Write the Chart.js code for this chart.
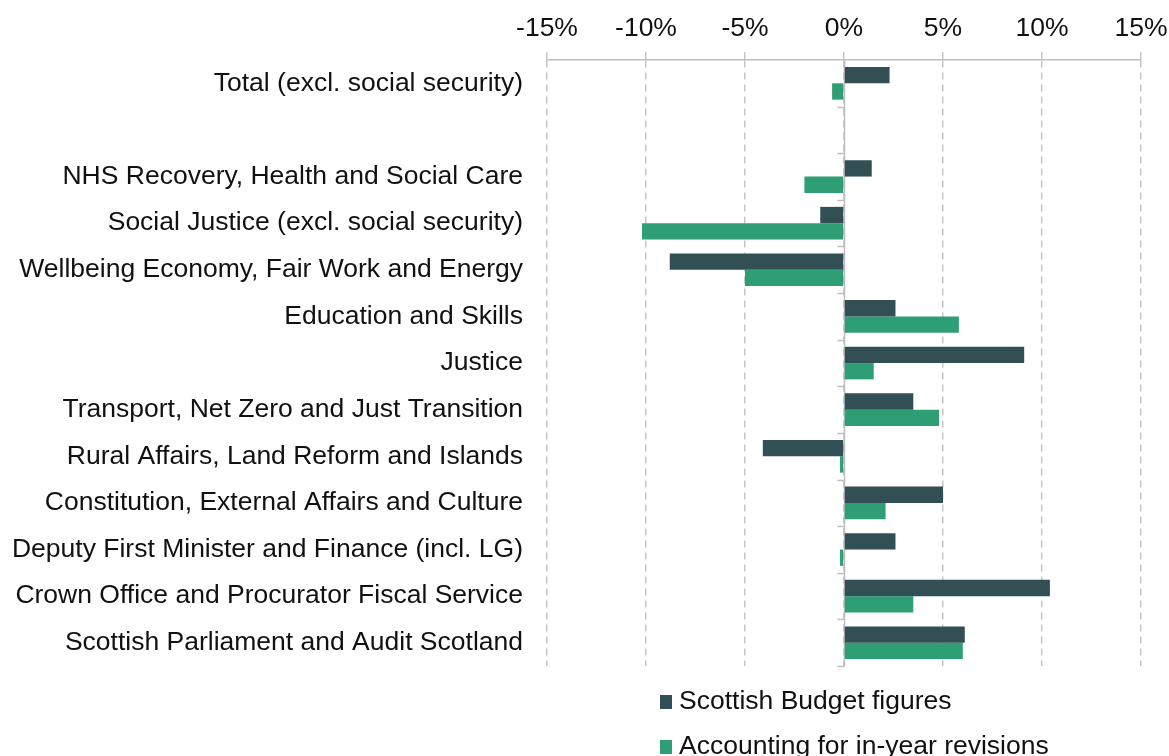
<!DOCTYPE html>
<html>
<head>
<meta charset="utf-8">
<script src="https://cdn.jsdelivr.net/npm/chart.js@4/dist/chart.umd.min.js"></script>
<style>
  html, body { margin: 0; padding: 0; background: #fff; overflow: hidden; }
  #wrap { position: relative; width: 1169px; height: 756px; }
  #chart { position: absolute; left: 0; top: 0; }
  #legend { position: absolute; left: 660px; top: 681px; font-family: "Liberation Sans", Arial, sans-serif; font-size: 26.5px; color: #111; }
  #legend div { height: 45px; line-height: 38px; white-space: nowrap; }
  #legend span.box { display: inline-block; width: 12px; height: 14px; margin-right: 7px; vertical-align: 0px; }
</style>
</head>
<body>
<div id="wrap">
  <canvas id="chart" width="1169" height="698"></canvas>
  <div id="legend"></div>
</div>
<script>
// categories (blank row after the total, as in the original)
const categories = [
    'Total (excl. social security)',
    '',
    'NHS Recovery, Health and Social Care',
    'Social Justice (excl. social security)',
    'Wellbeing Economy, Fair Work and Energy',
    'Education and Skills',
    'Justice',
    'Transport, Net Zero and Just Transition',
    'Rural Affairs, Land Reform and Islands',
    'Constitution, External Affairs and Culture',
    'Deputy First Minister and Finance (incl. LG)',
    'Crown Office and Procurator Fiscal Service',
    'Scottish Parliament and Audit Scotland'
];

// % change
const budgetFigures = [2.3, null, 1.4, -1.2, -8.8, 2.6, 9.1, 3.5, -4.1, 5.0, 2.6, 10.4, 6.1];
const inYearRevisions = [-0.6, null, -2.0, -10.2, -5.0, 5.8, 1.5, 4.8, -0.2, 2.1, -0.2, 3.5, 6.0];

const xTicks = [-15, -10, -5, 0, 5, 10, 15];

const darkColour = '#324F55';
const greenColour = '#2E9E74';
const gridColour = '#C6C6C6';
const fontFamily = '"Liberation Sans", Arial, sans-serif';

// zero line plus the little category ticks on it
const zeroAxis = {
    id: 'zeroAxis',
    beforeDatasetsDraw(chart) {
        const ctx = chart.ctx;
        const x0 = Math.round(chart.scales.x.getPixelForValue(0)) + 0.5;
        const area = chart.chartArea;
        const step = (area.bottom - area.top) / categories.length;
        ctx.save();
        ctx.strokeStyle = '#BFBFBF';
        ctx.lineWidth = 1.5;
        ctx.beginPath();
        ctx.moveTo(x0, area.top);
        ctx.lineTo(x0, area.bottom);
        for (let i = 1; i <= categories.length; i++) {
            const y = Math.round(area.top + i * step) + 0.5;
            ctx.moveTo(x0 - 7, y);
            ctx.lineTo(x0, y);
        }
        ctx.stroke();
        ctx.restore();
    }
};

const chart = new Chart(document.getElementById('chart'), {
    type: 'bar',
    data: {
        labels: categories,
        datasets: [
            { label: 'Scottish Budget figures', data: budgetFigures, backgroundColor: darkColour },
            { label: 'Accounting for in-year revisions', data: inYearRevisions, backgroundColor: greenColour }
        ]
    },
    options: {
        indexAxis: 'y',
        responsive: false,
        animation: false,
        layout: { padding: { top: 8, right: 0, bottom: 14, left: 0 } },
        datasets: { bar: { barPercentage: 1, categoryPercentage: 0.7 } },
        plugins: {
            legend: { display: false },
            tooltip: { enabled: false }
        },
        scales: {
            x: {
                position: 'top',
                min: -15,
                max: 15,
                afterBuildTicks: scale => { scale.ticks = xTicks.map(v => ({ value: v })); },
                afterFit: scale => {
                    scale.height = 52;
                    scale.paddingRight = 28;
                },
                ticks: {
                    callback: v => v + '%',
                    color: '#111',
                    font: { family: fontFamily, size: 26.5 },
                    padding: 7,
                    maxRotation: 0
                },
                grid: {
                    color: gridColour,
                    lineWidth: 1.5,
                    tickLength: 8,
                    tickColor: gridColour,
                    tickBorderDash: []
                },
                border: { display: true, color: '#BFBFBF', width: 1.5, dash: [7, 5] }
            },
            y: {
                afterFit: scale => { scale.width = 547; },
                grid: { display: false },
                border: { display: false },
                ticks: {
                    color: '#111',
                    font: { family: fontFamily, size: 26.5 },
                    padding: 16,
                    autoSkip: false
                }
            }
        }
    },
    plugins: [zeroAxis]
});

// legend stacked under the chart
const legend = document.getElementById('legend');
chart.data.datasets.forEach(ds => {
    const row = document.createElement('div');
    const box = document.createElement('span');
    box.className = 'box';
    box.style.background = ds.backgroundColor;
    row.appendChild(box);
    row.appendChild(document.createTextNode(ds.label));
    legend.appendChild(row);
});
</script>
</body>
</html>
